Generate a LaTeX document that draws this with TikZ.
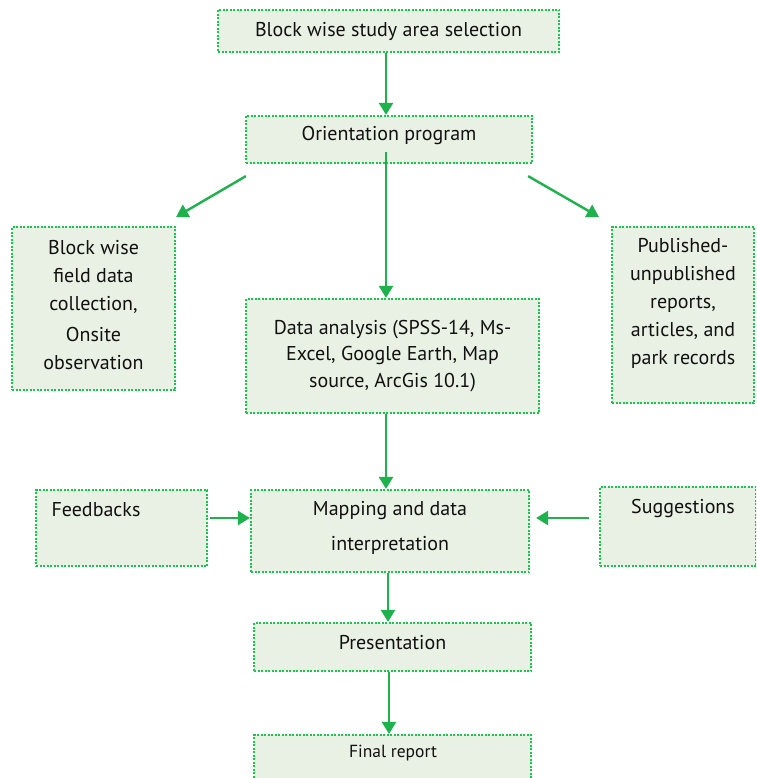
\documentclass[tikz,border=0pt]{standalone}
\usepackage{fontspec}
\setmainfont{PT Sans}
\usetikzlibrary{arrows.meta}
\definecolor{gline}{HTML}{14C84A}
\definecolor{garrow}{HTML}{1DB24C}
\definecolor{gfill}{HTML}{E8F1E4}
\definecolor{gtext}{HTML}{111111}
\begin{document}
\begin{tikzpicture}[x=1pt,y=-1pt,
  box/.style={draw=gline, fill=gfill, line width=2.2pt, dash pattern=on 2pt off 1.5pt,
    inner sep=0pt, align=center, text=gtext, font=\fontsize{20}{28}\selectfont},
  txt/.style={inner sep=0pt, text=gtext, font=\fontsize{20}{28}\selectfont},
  arr/.style={draw=garrow, line width=2.4pt, -{Triangle[length=12pt,width=14pt]}}]
\useasboundingbox (0,0) rectangle (756,778);
\clip (0,0) rectangle (756,778);
\fill[white] (0,0) rectangle (756,778);

\node[box, minimum width=341pt, minimum height=42pt] (b1) at (388.5,31) {Block wise study area selection};
\node[box, minimum width=286pt, minimum height=47pt] (b2) at (389,139.5) {};
\node[txt] at (389,136) {Orientation program};
\node[box, minimum width=163pt, minimum height=163pt] (bl) at (93.5,308.5) {};
\node[txt, align=center] at (93.5,305) {Block wise\\field data\\collection,\\[3pt]Onsite\\observation};
\node[box, minimum width=293pt, minimum height=114pt, font=\fontsize{20}{26.5}\selectfont] (bd) at (392.5,356) {Data analysis (SPSS-14, Ms-\\Excel, Google Earth, Map\\source, ArcGis 10.1)};
\node[box, minimum width=142pt, minimum height=176pt] (br) at (683,315) {};
\node[txt, align=center] at (683,303) {Published-\\unpublished\\reports,\\articles, and\\park records};
\node[box, minimum width=171pt, minimum height=76pt] (bf) at (121.5,528) {};
\node[txt] at (96,510) {Feedbacks};
\node[box, minimum width=278pt, minimum height=82pt] (bm) at (390,531) {};
\node[txt, align=center, font=\fontsize{20}{35}\selectfont] at (390,528) {Mapping and data\\interpretation};
\node[box, minimum width=156pt, minimum height=79pt] (bs) at (678,526.5) {};
\node[txt] at (683,508) {Suggestions};
\node[box, minimum width=277pt, minimum height=48pt] (bp) at (392.5,647) {};
\node[txt] at (392.5,643) {Presentation};
\node[box, minimum width=277pt, minimum height=60pt] (bfr) at (392.5,765) {};
\node[txt, font=\fontsize{17.5}{20}\selectfont] at (393,753) {Final report};

\draw[arr] (b1.south -| 386,0) -- (b2.north -| 386,0);
\draw[arr] ([shift={(1,12)}]b2.south west) -- ([shift={(0,-9)}]bl.north east);
\draw[arr] ([shift={(-5,12)}]b2.south east) -- ([shift={(-12,-9)}]br.north west);
\draw[arr] ([yshift=12]b2.south -| 386,0) -- (bd.north -| 386,0);
\draw[arr] (bd.south -| 386,0) -- (bm.north -| 386,0);
\draw[arr] ([xshift=2]bf.east |- 0,518) -- (bm.west |- 0,518);
\draw[arr] ([xshift=-10]bs.west |- 0,518) -- ([xshift=6]bm.east |- 0,518);
\draw[arr] (bm.south -| 388,0) -- (bp.north -| 388,0);
\draw[arr] (bp.south -| 389,0) -- (bfr.north -| 389,0);
\end{tikzpicture}
\end{document}
